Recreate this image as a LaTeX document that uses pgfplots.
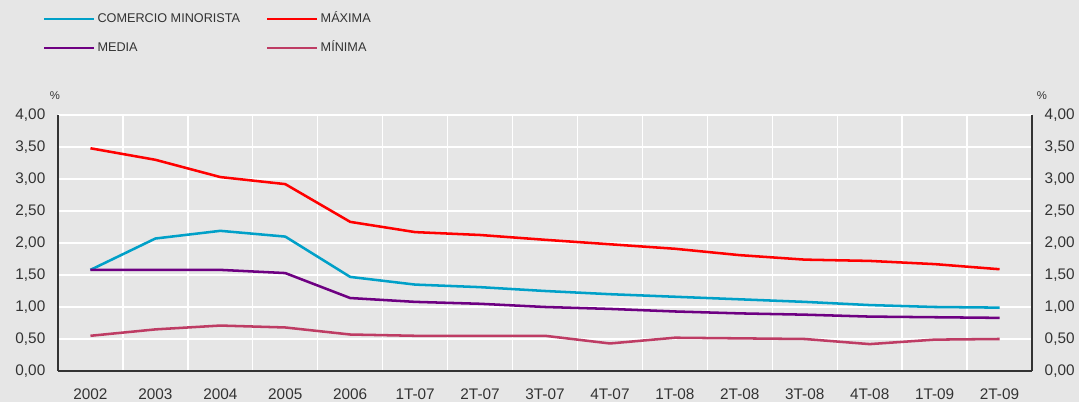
\documentclass[border=0pt]{standalone}
\usepackage{fontspec}
\setmainfont{Liberation Sans}
\usepackage{pgfplots}
\usepackage{pgfplotstable}
\pgfplotsset{compat=1.18}

\definecolor{bg}{HTML}{E6E6E6}
\definecolor{cmin}{HTML}{00A0C8}
\definecolor{cmax}{HTML}{FF0000}
\definecolor{cmed}{HTML}{6E0082}
\definecolor{cmim}{HTML}{BE3C64}
\definecolor{txt}{HTML}{333333}

% tipos por periodo (0 = 2002 ... 14 = 2T-09)
\pgfplotstableread{
x  minorista maxima media minima
0  1.58  3.48  1.58  0.55
1  2.07  3.30  1.58  0.65
2  2.19  3.03  1.58  0.71
3  2.10  2.92  1.53  0.68
4  1.47  2.33  1.14  0.57
5  1.35  2.17  1.08  0.55
6  1.31  2.125 1.05  0.55
7  1.25  2.05  1.00  0.55
8  1.20  1.98  0.97  0.43
9  1.16  1.91  0.93  0.52
10 1.12  1.81  0.90  0.51
11 1.08  1.74  0.88  0.50
12 1.03  1.72  0.85  0.42
13 1.00  1.67  0.84  0.49
14 0.99  1.59  0.83  0.50
}\tasas

\pgfplotsset{
  base/.style={
    scale only axis,
    width=730.5pt, height=192pt,
    at={(43.5pt,23.25pt)}, anchor=south west,
    xmin=-0.5, xmax=14.5,
    ymin=0, ymax=4,
    ytick={0,0.5,1,1.5,2,2.5,3,3.5,4},
    major tick length=0pt, minor tick length=0pt,
    tick label style={font=\fontsize{11.5}{13}\selectfont, text=txt},
    axis line style={txt, line width=0.8pt},
    yticklabel style={
      /pgf/number format/fixed,
      /pgf/number format/fixed zerofill,
      /pgf/number format/precision=2,
      /pgf/number format/use comma,
      /pgf/number format/assume math mode=true},
  },
  serie/.style={line width=1.9pt, mark=none},
}

\begin{document}
\begin{tikzpicture}[x=1pt,y=1pt]
\useasboundingbox (0,0) rectangle (809.25,301.5);
\fill[bg] (0,0) rectangle (809.25,301.5);

\begin{axis}[
  base,
  axis x line*=bottom, axis y line*=left,
  xtick={0,...,14},
  xticklabels={2002,2003,2004,2005,2006,1T-07,2T-07,3T-07,4T-07,1T-08,2T-08,3T-08,4T-08,1T-09,2T-09},
  minor xtick={-0.5,0.5,...,14.5},
  xminorgrids, ymajorgrids,
  grid style={white, line width=1pt},
  minor grid style={white, line width=1pt},
  yticklabel style={xshift=-6pt},
  xticklabel style={yshift=-10pt},
  legend columns=2,
  legend style={draw=none, fill=none, inner sep=0pt, outer sep=0pt,
    anchor=north west, at={(axis description cs:-0.0154,1.398)},
    font=\fontsize{9.5}{11}\selectfont, text=txt,
    nodes={inner xsep=0pt, inner ysep=0pt, text height=7pt, text depth=2pt},
    column sep=0pt, row sep=12.75pt},
  legend cell align=left,
  legend image code/.code={\draw[#1] (0pt,0pt) -- (37.5pt,0pt);},
]
\addplot[serie, cmin] table[x=x, y=minorista] {\tasas};
\addlegendentry{\hspace{1.5pt}\makebox[126.5pt][l]{COMERCIO MINORISTA}}
\addplot[serie, cmax] table[x=x, y=maxima] {\tasas};
\addlegendentry{\hspace{1.5pt}MÁXIMA}
\addplot[serie, cmed] table[x=x, y=media] {\tasas};
\addlegendentry{\hspace{1.5pt}\makebox[126.5pt][l]{MEDIA}}
\addplot[serie, cmim] table[x=x, y=minima] {\tasas};
\addlegendentry{\hspace{1.5pt}MÍNIMA}
\end{axis}

\begin{axis}[
  base,
  axis x line=none, axis y line*=right,
  xtick=\empty,
  yticklabel style={xshift=6pt},
]
\end{axis}

\node[font=\fontsize{8.5}{10}\selectfont, text=txt] at (41.25,229.5) {\%};
\node[font=\fontsize{8.5}{10}\selectfont, text=txt] at (781.5,229.5) {\%};
\end{tikzpicture}
\end{document}
